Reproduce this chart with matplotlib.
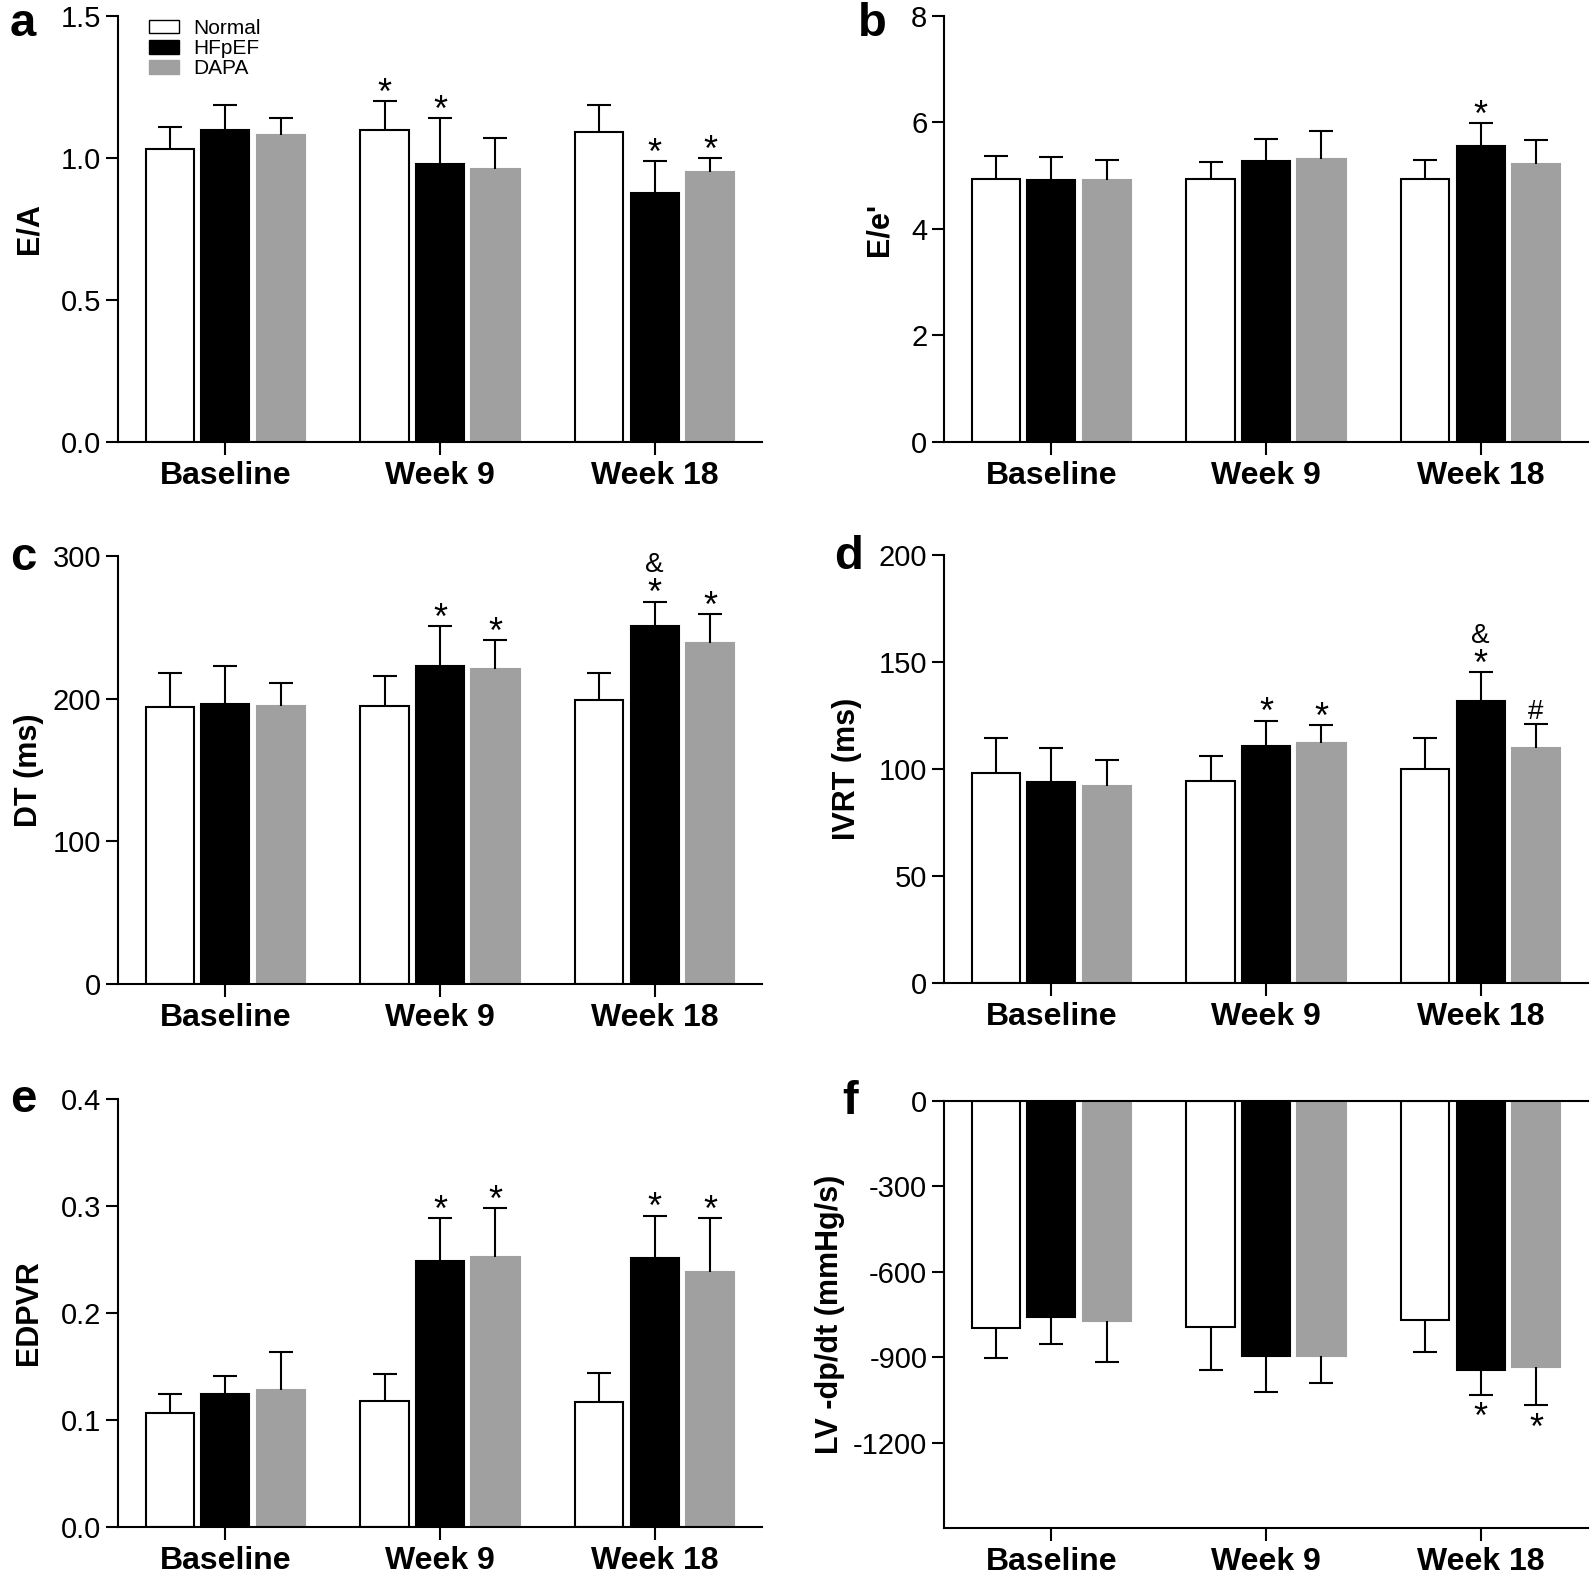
import numpy as np
import matplotlib
matplotlib.use("Agg")
import matplotlib.pyplot as plt
from matplotlib.patches import Patch

plt.rcParams['font.family'] = ['Liberation Sans', 'DejaVu Sans']
plt.rcParams['axes.unicode_minus'] = False

groups = ["Baseline", "Week 9", "Week 18"]
series = ["Normal", "HFpEF", "DAPA"]
colors = ["white", "black", "#a0a0a0"]
edges = ["black", "black", "#a0a0a0"]

# each panel: rows = series (Normal, HFpEF, DAPA), cols = groups
ea_mean = [[1.03, 1.10, 1.09], [1.10, 0.98, 0.877], [1.08, 0.96, 0.95]]
ea_err = [[0.08, 0.10, 0.095], [0.085, 0.16, 0.113], [0.06, 0.11, 0.05]]

ee_mean = [[4.94, 4.94, 4.94], [4.92, 5.27, 5.55], [4.92, 5.32, 5.23]]
ee_err = [[0.44, 0.31, 0.36], [0.44, 0.42, 0.44], [0.38, 0.52, 0.44]]

dt_mean = [[194, 195, 199], [196, 223, 251], [195, 221, 239]]
dt_err = [[24, 21, 19], [27, 28, 17], [16, 20, 20]]

ivrt_mean = [[97.9, 94.5, 100], [94, 110.7, 131.6], [92, 112, 110]]
ivrt_err = [[16.6, 11.5, 14.5], [15.7, 11.9, 13.8], [12, 8.7, 11]]

edpvr_mean = [[0.107, 0.118, 0.117], [0.124, 0.249, 0.251], [0.128, 0.252, 0.238]]
edpvr_err = [[0.017, 0.025, 0.027], [0.017, 0.040, 0.040], [0.036, 0.046, 0.051]]

dpdt_mean = [[-798, -793, -770], [-760, -897, -944], [-772, -897, -935]]
dpdt_err = [[106, 151, 112], [94, 125, 88], [145, 95, 134]]

# significance marks: (group, series, text)
ea_marks = [(1, 0, "*"), (1, 1, "*"), (2, 1, "*"), (2, 2, "*")]
ee_marks = [(2, 1, "*")]
dt_marks = [(1, 1, "*"), (1, 2, "*"), (2, 1, "*"), (2, 1, "&"), (2, 2, "*")]
ivrt_marks = [(1, 1, "*"), (1, 2, "*"), (2, 1, "*"), (2, 1, "&"), (2, 2, "#")]
edpvr_marks = [(1, 1, "*"), (1, 2, "*"), (2, 1, "*"), (2, 2, "*")]
dpdt_marks = [(2, 1, "*"), (2, 2, "*")]

W, H = 1595, 1575
fig = plt.figure(figsize=(W / 100, H / 100), dpi=100)

def rect(left, top, right, bottom):
    return [left / W, 1 - bottom / H, (right - left) / W, (bottom - top) / H]

panels = [
    dict(letter="a", pos=rect(118, 16, 762, 442), mean=ea_mean, err=ea_err, marks=ea_marks,
         ylim=(0, 1.5), ticks=[0, 0.5, 1.0, 1.5], fmt="{:.1f}", ylabel="E/A",
         lpos=(10, 36), ylx=29),
    dict(letter="b", pos=rect(944, 16, 1588, 442), mean=ee_mean, err=ee_err, marks=ee_marks,
         ylim=(0, 8), ticks=[0, 2, 4, 6, 8], fmt="{:.0f}", ylabel="E/e'",
         lpos=(858, 36), ylx=879),
    dict(letter="c", pos=rect(118, 556, 762, 984), mean=dt_mean, err=dt_err, marks=dt_marks,
         ylim=(0, 300), ticks=[0, 100, 200, 300], fmt="{:.0f}", ylabel="DT (ms)",
         lpos=(10, 570), ylx=29),
    dict(letter="d", pos=rect(944, 555, 1588, 983), mean=ivrt_mean, err=ivrt_err, marks=ivrt_marks,
         ylim=(0, 200), ticks=[0, 50, 100, 150, 200], fmt="{:.0f}", ylabel="IVRT (ms)",
         lpos=(834, 569), ylx=847),
    dict(letter="e", pos=rect(118, 1099, 762, 1527), mean=edpvr_mean, err=edpvr_err, marks=edpvr_marks,
         ylim=(0, 0.4), ticks=[0, 0.1, 0.2, 0.3, 0.4], fmt="{:.1f}", ylabel="EDPVR",
         lpos=(10, 1112), ylx=29),
    dict(letter="f", pos=rect(944, 1101, 1588, 1528), mean=dpdt_mean, err=dpdt_err, marks=dpdt_marks,
         ylim=(-1500, 0), ticks=[-1200, -900, -600, -300, 0], fmt="{:.0f}",
         ylabel="LV -dp/dt (mmHg/s)", lpos=(842, 1114), ylx=830),
]

x = np.arange(len(groups))
bw = 0.225
off = 0.258
lw = 1.5

for p in panels:
    ax = fig.add_axes(p["pos"])
    neg = p["ylim"][1] <= 0
    for s in range(3):
        xs = x + (s - 1) * off
        m = np.array(p["mean"][s], dtype=float)
        e = np.array(p["err"][s], dtype=float)
        ax.bar(xs, m, width=bw, color=colors[s], edgecolor=edges[s], linewidth=lw,
               label=series[s], zorder=2)
        tip = m - e if neg else m + e
        ax.vlines(xs, m, tip, color="black", linewidth=lw, zorder=3)
        ax.plot(xs, tip, linestyle="none", marker="_", markersize=17,
                markeredgewidth=lw, color="black", zorder=3)
    # significance marks
    for g, s, t in p["marks"]:
        xs = g + (s - 1) * off
        m = p["mean"][s][g]
        e = p["err"][s][g]
        if neg:
            ax.annotate(t, (xs, m - e), xytext=(0, -24), textcoords="offset points",
                        ha="center", va="baseline", fontsize=26)
        elif t == "*":
            ax.annotate(t, (xs, m + e), xytext=(0, -2), textcoords="offset points",
                        ha="center", va="baseline", fontsize=26)
        elif t == "&":
            ax.annotate(t, (xs, m + e), xytext=(0, 21), textcoords="offset points",
                        ha="center", va="baseline", fontsize=20)
        else:
            ax.annotate(t, (xs, m + e), xytext=(0, 4), textcoords="offset points",
                        ha="center", va="baseline", fontsize=20)
    ax.set_xlim(-0.5, 2.5)
    ax.set_ylim(*p["ylim"])
    ax.set_yticks(p["ticks"])
    ax.set_yticklabels([p["fmt"].format(v) for v in p["ticks"]])
    ax.set_xticks(x)
    ax.set_xticklabels(groups, fontsize=23, fontweight="bold")
    ax.tick_params(axis="y", labelsize=21, length=9, width=lw, pad=3)
    ax.tick_params(axis="x", length=9, width=lw, pad=5)
    ax.spines["right"].set_visible(False)
    ax.spines["top"].set_visible(neg)
    for sp in ["left", "bottom", "top"]:
        ax.spines[sp].set_linewidth(lw)
    bb = p["pos"]
    fig.text(p["ylx"] / W, bb[1] + bb[3] / 2, p["ylabel"], rotation=90, fontsize=22,
             fontweight="bold", ha="center", va="center")
    fig.text(p["lpos"][0] / W, 1 - p["lpos"][1] / H, p["letter"], fontsize=34,
             fontweight="bold", va="baseline", ha="left")
    if p["letter"] == "a":
        handles = [Patch(facecolor=colors[i], edgecolor="black" if i < 2 else colors[i],
                         linewidth=1.0, label=series[i]) for i in range(3)]
        ax.legend(handles=handles, loc="upper left", bbox_to_anchor=(0.035, 1.012),
                  frameon=False, fontsize=15, handlelength=1.45, handleheight=0.6,
                  handletextpad=0.7, labelspacing=0.05, borderaxespad=0)

fig.savefig("out.png", dpi=100)
